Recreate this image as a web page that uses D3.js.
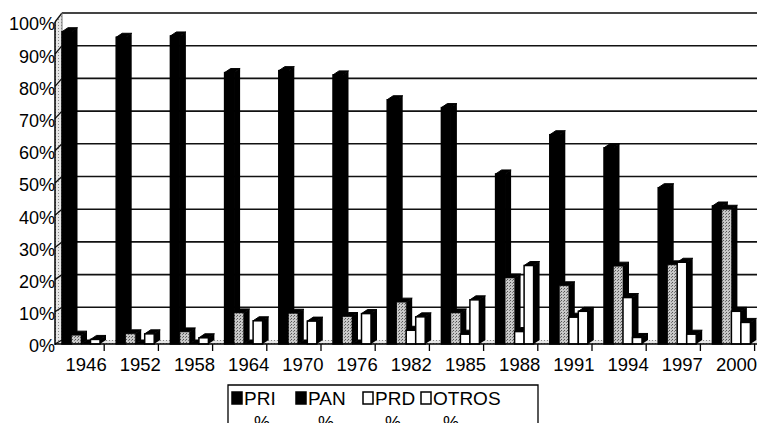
<!DOCTYPE html>
<html>
<head>
<meta charset="utf-8">
<script src="https://cdn.jsdelivr.net/npm/d3@7"></script>
<style>
  body { margin: 0; background: #fff; }
  svg { display: block; font-family: "Liberation Sans", Arial, sans-serif; }
</style>
</head>
<body>
<div id="chart"></div>
<script>
// Data (share of seats, %)
const years = ["1946", "1952", "1958", "1964", "1970", "1976", "1982", "1985", "1988", "1991", "1994", "1997", "2000"];
const series = ["PRI", "PAN", "PRD", "OTROS"];
const pri = [95.5, 93.8, 94.2, 83.0, 83.6, 82.3, 74.7, 72.3, 52.0, 64.0, 60.0, 47.8, 42.2];
const pan = [2.7, 3.1, 3.7, 9.5, 9.4, 8.4, 12.8, 9.5, 20.2, 17.8, 23.8, 24.2, 41.2];
const prd = [0, 0, 0, 0, 0, 0, 4.2, 3.0, 3.8, 8.2, 14.2, 25.0, 10.0];
const otros = [1.4, 3.1, 1.9, 7.1, 7.0, 9.3, 8.3, 13.5, 24.0, 10.0, 2.0, 3.0, 6.6];
const yTicks = [0, 10, 20, 30, 40, 50, 60, 70, 80, 90, 100];

const values = { PRI: pri, PAN: pan, PRD: prd, OTROS: otros };

const W = 757, H = 423;
const dx = 6, dy = 4;       // bar depth
const wallL = 62, axisL = 55, right = W;

const svg = d3.select("#chart").append("svg")
    .attr("width", W)
    .attr("height", H);

const defs = svg.append("defs");
// halftone look for the grey faces
const dots = defs.append("pattern")
    .attr("id", "dots").attr("width", 3).attr("height", 3)
    .attr("patternUnits", "userSpaceOnUse");
dots.append("rect").attr("width", 3).attr("height", 3).attr("fill", "#c8c8c8");
dots.append("rect").attr("x", 0).attr("y", 0).attr("width", 1).attr("height", 1).attr("fill", "#555");
dots.append("rect").attr("x", 2).attr("y", 1).attr("width", 1).attr("height", 1).attr("fill", "#777");
const light = defs.append("pattern")
    .attr("id", "light").attr("width", 3).attr("height", 3)
    .attr("patternUnits", "userSpaceOnUse");
light.append("rect").attr("width", 3).attr("height", 3).attr("fill", "#e6e6e6");
light.append("rect").attr("x", 1).attr("y", 1).attr("width", 1).attr("height", 1).attr("fill", "#888");

// Scales
const x = d3.scaleBand().domain(years).range([50, 50 + 13 * 54.2]);
const xs = d3.scaleBand().domain(series).range([0, 38]);
const yBar = d3.scaleLinear().domain([0, 100]).range([344, 17]);   // front faces
const yBack = d3.scaleLinear().domain([0, 100]).range([340, 13]);  // back wall
const yFront = d3.scaleLinear().domain([0, 100]).range([344, 22]); // left axis

// Left side wall and floor
svg.append("polygon")
    .attr("points", [[axisL, yFront(0)], [axisL, yFront(100)], [wallL, yBack(100)], [wallL, yBack(0)]].join(" "))
    .attr("fill", "url(#light)");
svg.append("polygon")
    .attr("points", [[axisL, yBar(0)], [wallL, yBack(0)], [right, yBack(0)], [right, yBar(0)]].join(" "))
    .attr("fill", "url(#light)");

// Back wall grid
svg.append("g").selectAll("line")
    .data(yTicks.slice(1))
    .join("line")
    .attr("x1", wallL).attr("x2", right)
    .attr("y1", d => yBack(d)).attr("y2", d => yBack(d))
    .attr("stroke", d => d === 100 ? "#444" : "#111")
    .attr("stroke-width", d => d === 100 ? 1.8 : 1.6);
// slashes on the side wall
svg.append("g").selectAll("line")
    .data(yTicks)
    .join("line")
    .attr("x1", axisL).attr("x2", wallL)
    .attr("y1", d => yFront(d)).attr("y2", d => yBack(d))
    .attr("stroke", "#111").attr("stroke-width", 1.3);
svg.append("line")
    .attr("x1", wallL).attr("x2", wallL)
    .attr("y1", yBack(100)).attr("y2", yBack(0))
    .attr("stroke", "#777").attr("stroke-width", 1);

// Bars (left to right so nearer right faces cover the sides)
const bars = [];
years.forEach((yr, i) => {
    series.forEach(s => bars.push({ year: yr, s: s, v: values[s][i] }));
});

const faceFill = { PRI: "#000", PAN: "url(#dots)", PRD: "#fff", OTROS: "#fff" };
const bw = xs.bandwidth();

const g = svg.append("g");
bars.forEach(d => {
    const x0 = x(d.year) + 12 + xs(d.s);
    const yt = yBar(d.v), yb = yBar(0);
    // right side
    g.append("polygon")
        .attr("points", [[x0 + bw, yb], [x0 + bw, yt], [x0 + bw + dx, yt - dy], [x0 + bw + dx, yb - dy]].join(" "))
        .attr("fill", "#000");
    // top
    g.append("polygon")
        .attr("points", [[x0, yt], [x0 + dx, yt - dy], [x0 + bw + dx, yt - dy], [x0 + bw, yt]].join(" "))
        .attr("fill", "#000").attr("stroke", "#000").attr("stroke-width", 1);
    // front
    g.append("rect")
        .attr("x", x0).attr("y", yt)
        .attr("width", bw).attr("height", Math.max(0, yb - yt))
        .attr("fill", faceFill[d.s])
        .attr("stroke", "#000").attr("stroke-width", d.s === "PAN" ? 0.6 : 1.5);
});

// Y axis
svg.append("line")
    .attr("x1", axisL).attr("x2", axisL)
    .attr("y1", yFront(100)).attr("y2", yBar(0) + 1)
    .attr("stroke", "#000").attr("stroke-width", 1.5);
svg.append("g").selectAll("text")
    .data(yTicks)
    .join("text")
    .attr("x", 55)
    .attr("y", d => yFront(d) + 2)
    .attr("dy", "0.35em")
    .attr("text-anchor", "end")
    .attr("font-size", 18)
    .text(d => d + "%");

// X axis
svg.append("line")
    .attr("x1", axisL).attr("x2", right)
    .attr("y1", yBar(0)).attr("y2", yBar(0))
    .attr("stroke", "#000").attr("stroke-width", 1.5);
svg.append("g").selectAll("line")
    .data(years)
    .join("line")
    .attr("x1", d => x(d) + x.bandwidth()).attr("x2", d => x(d) + x.bandwidth())
    .attr("y1", yBar(0)).attr("y2", yBar(0) + 7)
    .attr("stroke", "#000").attr("stroke-width", 1.3);
svg.append("g").selectAll("text")
    .data(years)
    .join("text")
    .attr("x", d => x(d) + x.bandwidth() / 2 + 9)
    .attr("y", 371)
    .attr("text-anchor", "middle")
    .attr("font-size", 18.5)
    .text(d => d);

// Legend (cut by the bottom edge)
const legX = [232, 296, 363, 421];
const leg = svg.append("g");
leg.append("path")
    .attr("d", "M228,430 V385 H538 V430")
    .attr("fill", "none").attr("stroke", "#000").attr("stroke-width", 1.3);
series.forEach((s, i) => {
    leg.append("rect")
        .attr("x", legX[i]).attr("y", 392)
        .attr("width", 10).attr("height", 12)
        .attr("fill", i < 2 ? "#000" : "#fff")
        .attr("stroke", "#000").attr("stroke-width", 1.5);
    leg.append("text")
        .attr("x", legX[i] + 12).attr("y", 405)
        .attr("font-size", 19)
        .text(s);
    leg.append("text")
        .attr("x", legX[i] + 22).attr("y", 429)
        .attr("font-size", 18)
        .text("%");
});
</script>
</body>
</html>
